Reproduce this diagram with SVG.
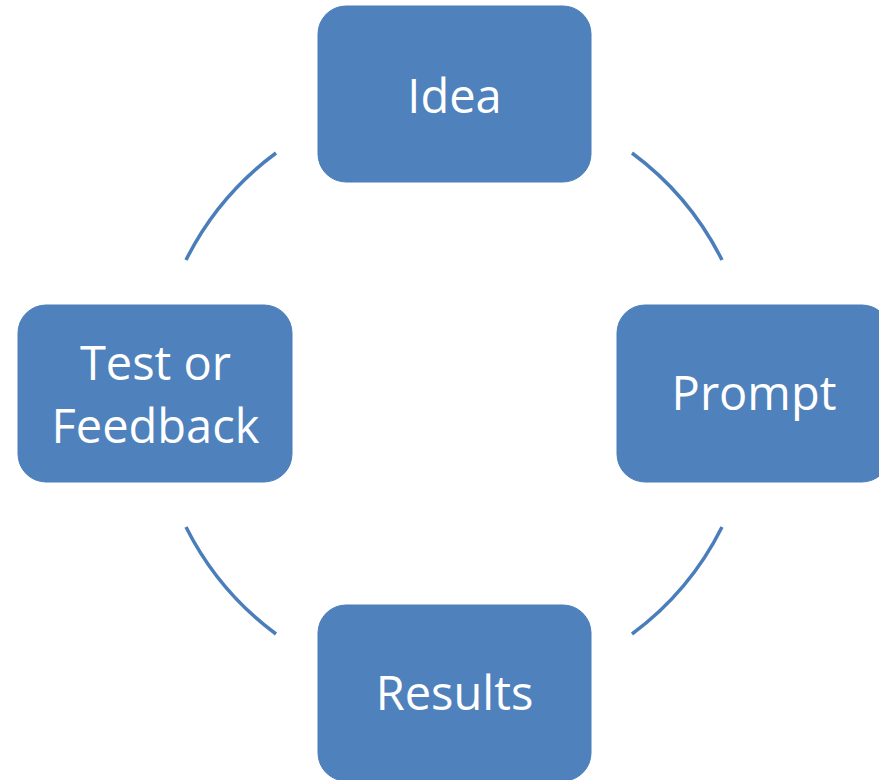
<svg xmlns="http://www.w3.org/2000/svg" width="879" height="780" viewBox="0 0 879 780">
<style>
.box{fill:#4F81BD;stroke:#4A7EBB;stroke-width:1}
.lbl{fill:#FFFFFF;font-family:"Open Sans","Liberation Sans",sans-serif;font-size:47px;text-anchor:middle}
.arc{fill:none;stroke:#4A7EBB;stroke-width:3.5}
</style>
<rect width="879" height="780" fill="#FFFFFF"/>
<g id="connectors">
<path class="arc" d="M 276 153 A 300 300 0 0 0 186 260"/>
<path class="arc" d="M 632 153 A 300 300 0 0 1 722 260"/>
<path class="arc" d="M 722 527 A 300 300 0 0 1 632 634"/>
<path class="arc" d="M 276 634 A 300 300 0 0 1 186 527"/>
</g>
<g id="idea">
<rect class="box" x="318" y="6" width="273" height="176" rx="28" ry="28"/>
<text class="lbl" x="454.5" y="113">Idea</text>
</g>
<g id="prompt">
<rect class="box" x="617" y="305" width="273" height="177" rx="28" ry="28"/>
<text class="lbl" x="754" y="410">Prompt</text>
</g>
<g id="results">
<rect class="box" x="318" y="605" width="273" height="176" rx="28" ry="28"/>
<text class="lbl" x="454.5" y="710">Results</text>
</g>
<g id="test-feedback">
<rect class="box" x="18" y="305" width="274" height="177" rx="28" ry="28"/>
<text class="lbl" x="155.5" y="380">Test or</text>
<text class="lbl" x="155.5" y="443">Feedback</text>
</g>
</svg>
